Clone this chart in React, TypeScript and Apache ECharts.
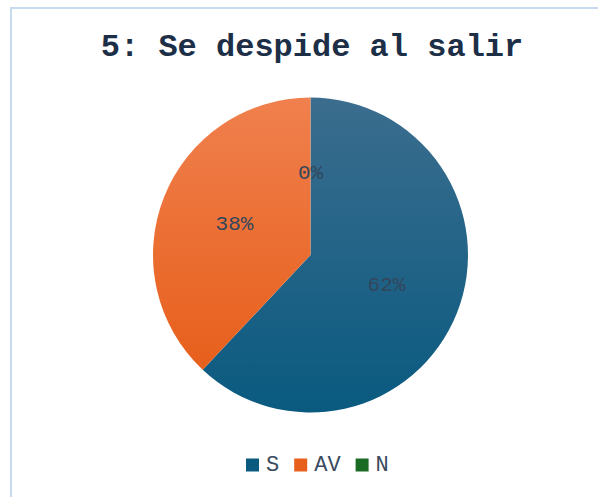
import React, { useEffect, useRef } from "react";
import * as echarts from "echarts";

const titleText = "5: Se despide al salir";
const categories = ["S", "AV", "N"];
const values = [62, 38, 0];
const colorsTop = ["#3b6d8e", "#f0804e", "#2f8a3a"];
const colorsBottom = ["#0a5a80", "#e75f1b", "#1a6b23"];

export default function App() {
  const ref = useRef<HTMLDivElement>(null);
  useEffect(() => {
    const chart = echarts.init(ref.current!, null, { renderer: "svg" });
    const data = categories.map((name, i) => ({
      name,
      value: values[i],
      itemStyle: {
        color: new echarts.graphic.LinearGradient(0, 0, 0, 1, [
          { offset: 0, color: colorsTop[i] },
          { offset: 1, color: colorsBottom[i] },
        ]),
      },
    }));
    chart.setOption({
      animation: false,
      backgroundColor: "#ffffff",
      title: {
        text: titleText,
        left: 307,
        textAlign: "center",
        top: 26,
        textStyle: {
          fontFamily: "Liberation Mono",
          fontWeight: "bold",
          fontSize: 32,
          color: "#1d2f47",
        },
      },
      legend: {
        data: categories.map((name, i) => ({
          name,
          itemStyle: { color: colorsBottom[i] },
        })),
        bottom: 16,
        left: 241,
        icon: "rect",
        itemWidth: 13,
        itemHeight: 13,
        itemGap: 15,
        textStyle: {
          fontFamily: "Liberation Mono",
          fontSize: 22,
          color: "#3a4a60",
          padding: [0, 0, 0, 2],
        },
      },
      graphic: [
        {
          type: "line",
          shape: { x1: 11, y1: 8, x2: 598, y2: 8 },
          style: { stroke: "#c6dbef", lineWidth: 2 },
          silent: true,
        },
        {
          type: "line",
          shape: { x1: 11, y1: 7, x2: 11, y2: 497 },
          style: { stroke: "#c6dbef", lineWidth: 2 },
          silent: true,
        },
      ],
      series: [
        {
          type: "pie",
          center: [310.5, 255],
          radius: [0, 157.5],
          startAngle: 90,
          clockwise: true,
          data,
          label: {
            show: true,
            position: "inside",
            formatter: "{d}%",
            fontFamily: "Liberation Mono",
            fontSize: 21,
            color: "#33465c",
          },
          labelLine: { show: false },
          percentPrecision: 0,
          itemStyle: { borderWidth: 0 },
          emphasis: { disabled: true },
        },
      ],
    });
    return () => chart.dispose();
  }, []);
  return (
    <div
      ref={ref}
      style={{ position: "fixed", left: 0, top: 0, width: 598, height: 497 }}
    />
  );
}
